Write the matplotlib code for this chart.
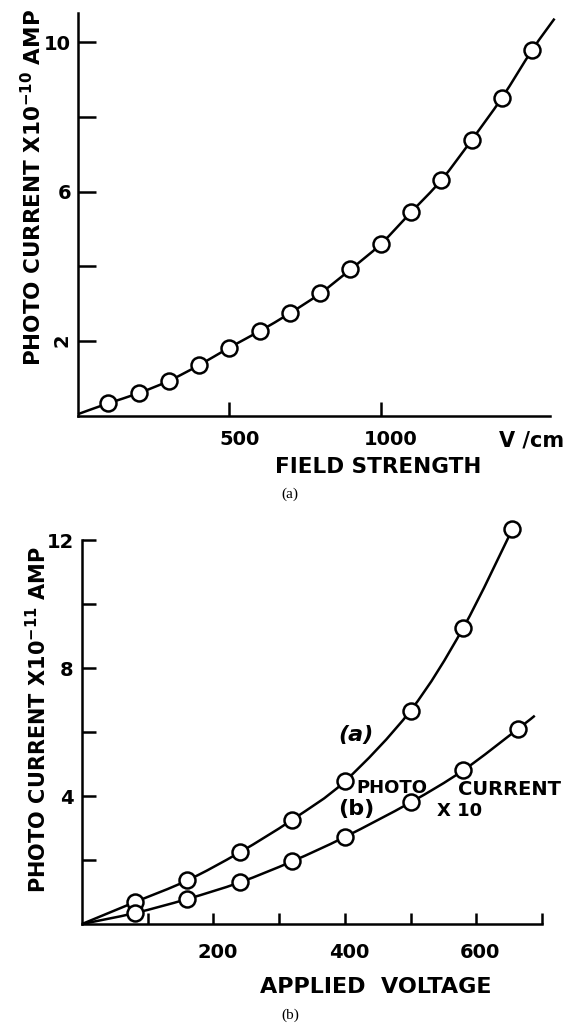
import matplotlib
matplotlib.use("Agg")
import matplotlib.pyplot as plt
import numpy as np
from matplotlib.path import Path
from matplotlib.patches import PathPatch
from matplotlib.transforms import ScaledTranslation

# (a) photocurrent vs field strength
field = [100, 200, 300, 400, 500, 600, 700, 800, 900, 1000, 1100, 1200, 1300, 1400, 1500]
current_a = [0.34, 0.61, 0.94, 1.36, 1.83, 2.27, 2.75, 3.28, 3.92, 4.60, 5.45, 6.31, 7.38, 8.51, 9.79]
# hand-drawn curve ends beyond the measured points
curve_a_start = (0, 0.05)
curve_a_end = (1574, 10.63)

# (b) photocurrent vs applied voltage, two samples
volt_a = [80, 160, 240, 320, 400, 500, 580, 655]
amp_a = [0.68, 1.36, 2.24, 3.26, 4.46, 6.67, 9.25, 12.34]
volt_b = [80, 160, 240, 320, 400, 500, 580, 663]
amp_b = [0.34, 0.78, 1.30, 1.96, 2.72, 3.80, 4.80, 6.09]
curve_b_end = (689, 6.51)

W, H = 571, 1027
LW = 1.8
FONT = "DejaVu Sans"


def fx(px):
    return px / W


def fy(py):
    return 1 - py / H


def smooth_curve(xs, ys):
    # Catmull-Rom through the points, drawn as cubic Bezier segments
    pts = np.column_stack([xs, ys]).astype(float)
    verts = [pts[0]]
    codes = [Path.MOVETO]
    n = len(pts)
    for i in range(n - 1):
        p0 = pts[max(i - 1, 0)]
        p1 = pts[i]
        p2 = pts[i + 1]
        p3 = pts[min(i + 2, n - 1)]
        verts += [p1 + (p2 - p0) / 6, p2 - (p3 - p1) / 6, p2]
        codes += [Path.CURVE4] * 3
    return Path(verts, codes)


def style_axes(ax):
    for side in ("top", "right"):
        ax.spines[side].set_visible(False)
    for side in ("left", "bottom"):
        ax.spines[side].set_linewidth(LW)
    ax.tick_params(direction="in", width=LW, colors="black")
    for lab in ax.get_xticklabels() + ax.get_yticklabels():
        lab.set_fontweight("bold")
        lab.set_fontfamily(FONT)


def draw_series(ax, x, y, line_x, line_y):
    ax.add_patch(PathPatch(smooth_curve(line_x, line_y), fill=False,
                           lw=LW, ec="black", clip_on=False, zorder=2))
    ax.plot(x, y, "o", ms=11.5, mfc="white", mec="black", mew=1.8,
            clip_on=False, zorder=3)


fig = plt.figure(figsize=(W / 100, H / 100), dpi=100)

# ---- panel (a) ----
ax1 = fig.add_axes([fx(78), fy(416), fx(550 - 78), (416 - 13) / H])
ax1.set_xlim(0, 1559)
ax1.set_ylim(0, 10.78)
draw_series(ax1, field, current_a,
            [curve_a_start[0]] + field + [curve_a_end[0]],
            [curve_a_start[1]] + current_a + [curve_a_end[1]])
ax1.set_xticks([500, 1000])
ax1.set_xticklabels(["500", "1000"], fontsize=14)
ax1.set_yticks([2, 4, 6, 8, 10])
ax1.set_yticklabels(["2", "", "6", "", "10"], fontsize=14)
ax1.tick_params(axis="x", length=10, pad=10)
ax1.tick_params(axis="y", length=13, pad=5)
style_axes(ax1)
ax1.get_yticklabels()[0].set_rotation(90)
for lab in ax1.get_xticklabels():
    lab.set_transform(lab.get_transform() + ScaledTranslation(0.1, 0, fig.dpi_scale_trans))

fig.text(fx(33), fy(188), r"PHOTO CURRENT X10$^{\mathbf{-10}}$ AMP", rotation=90,
         ha="center", va="center", fontsize=15.5, fontweight="bold", family=FONT)
fig.text(fx(378), fy(467), "FIELD STRENGTH", ha="center", va="center",
         fontsize=15.5, fontweight="bold", family=FONT)
fig.text(fx(532), fy(441), "V /cm", ha="center", va="center",
         fontsize=15, fontweight="bold", family=FONT)
fig.text(fx(290), fy(494), "(a)", ha="center", va="center",
         fontsize=11, family="Liberation Serif")

# ---- panel (b) ----
ax2 = fig.add_axes([fx(82), fy(924), fx(542 - 82), (924 - 540) / H])
ax2.set_xlim(0, 700)
ax2.set_ylim(0, 12)
draw_series(ax2, volt_a, amp_a, [0] + volt_a, [0] + amp_a)
draw_series(ax2, volt_b, amp_b, [0] + volt_b + [curve_b_end[0]],
            [0] + amp_b + [curve_b_end[1]])
ax2.set_xticks([100, 200, 300, 400, 500, 600, 700])
ax2.set_xticklabels(["", "200", "", "400", "", "600", ""], fontsize=14)
ax2.set_yticks([2, 4, 6, 8, 10, 12])
ax2.set_yticklabels(["", "4", "", "8", "", "12"], fontsize=14)
ax2.tick_params(axis="x", length=8, pad=14)
ax2.tick_params(axis="y", length=10, pad=6)
style_axes(ax2)
for lab in ax2.get_xticklabels():
    lab.set_transform(lab.get_transform() + ScaledTranslation(0.04, 0, fig.dpi_scale_trans))

ax2.text(417, 5.92, "(a)", ha="center", va="center", fontsize=16,
         fontweight="bold", fontstyle="italic", family=FONT)
ax2.text(472, 4.25, "PHOTO", ha="center", va="center", fontsize=13,
         fontweight="bold", family=FONT)
ax2.text(650, 4.2, "CURRENT", ha="center", va="center", fontsize=14,
         fontweight="bold", family=FONT)
ax2.text(418, 3.58, "(b)", ha="center", va="center", fontsize=16,
         fontweight="bold", family=FONT)
ax2.text(574, 3.52, "X 10", ha="center", va="center", fontsize=13,
         fontweight="bold", family=FONT)

fig.text(fx(38), fy(720), r"PHOTO CURRENT X10$^{\mathbf{-11}}$ AMP", rotation=90,
         ha="center", va="center", fontsize=15, fontweight="bold", family=FONT)
fig.text(fx(376), fy(987), "APPLIED  VOLTAGE", ha="center", va="center",
         fontsize=16, fontweight="bold", family=FONT)
fig.text(fx(290), fy(1015), "(b)", ha="center", va="center",
         fontsize=11, family="Liberation Serif")

fig.savefig("out.png", dpi=100)
